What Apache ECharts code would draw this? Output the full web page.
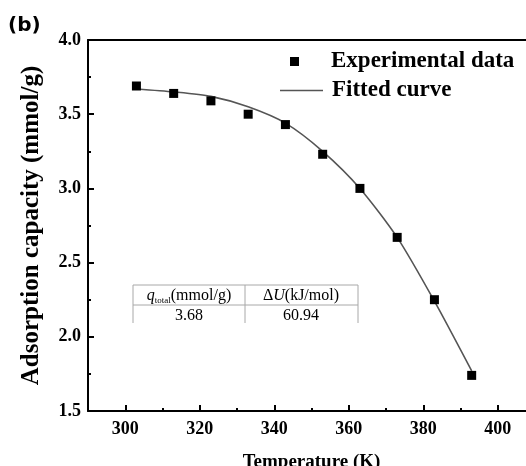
<!DOCTYPE html>
<html><head><meta charset="utf-8">
<script src="https://cdn.jsdelivr.net/npm/echarts@6/dist/echarts.min.js"></script>
<style>html,body{margin:0;padding:0;background:#fff}#c{width:526px;height:466px}</style>
</head><body><div id="c"></div>
<script>
const temperatures = [303, 313, 323, 333, 343, 353, 363, 373, 383, 393];
const experimental = [3.69, 3.64, 3.59, 3.50, 3.43, 3.23, 3.00, 2.67, 2.25, 1.74];
const fitted = [3.67, 3.65, 3.62, 3.55, 3.44, 3.25, 3.00, 2.67, 2.24, 1.77];
const xTickLabels = [300, 320, 340, 360, 380, 400];
const yTickLabels = ['1.5', '2.0', '2.5', '3.0', '3.5', '4.0'];
const tableValues = ['3.68', '60.94'];
const panelLabel = '(b)';

const serif = "'Liberation Serif','Times New Roman',serif";
const chart = echarts.init(document.getElementById('c'), null, {renderer: 'canvas'});

const expData = temperatures.map((t, i) => [t, experimental[i]]);
const fitData = temperatures.map((t, i) => [t, fitted[i]]);

const tableLine = '#a8a8a8';
chart.setOption({
  animation: false,
  backgroundColor: '#fff',
  grid: {left: 88, width: 447, top: 40, bottom: 55, outerBoundsMode: 'none', containLabel: false},
  legend: [
    {
      data: [{name: 'Experimental data', icon: 'rect'}],
      left: 290, top: 50, padding: 0, itemWidth: 9, itemHeight: 9,
      itemStyle: {color: '#000', opacity: 1},
      textStyle: {fontFamily: serif, fontWeight: 'bold', fontSize: 23, color: '#000', padding: [0, 0, 0, 27]},
      selectedMode: false
    },
    {
      data: [{name: 'Fitted curve', icon: 'rect'}],
      left: 280, top: 79, padding: 0, itemWidth: 43, itemHeight: 1.6,
      textStyle: {fontFamily: serif, fontWeight: 'bold', fontSize: 23, color: '#000', padding: [0, 0, 0, 4]},
      selectedMode: false
    }
  ],
  xAxis: [
    {
      type: 'value', min: 290, max: 410,
      name: 'Temperature (K)', nameLocation: 'middle', nameGap: 42,
      nameTextStyle: {fontFamily: serif, fontWeight: 'bold', fontSize: 19, color: '#000'},
      axisLine: {lineStyle: {color: '#000', width: 2}},
      axisTick: {inside: true, length: 6, lineStyle: {color: '#000', width: 2}, customValues: xTickLabels},
      axisLabel: {margin: 9, fontFamily: serif, fontWeight: 'bold', fontSize: 18, color: '#000', customValues: xTickLabels},
      splitLine: {show: false}
    },
    {
      type: 'value', position: 'bottom', min: 290, max: 410, interval: 10,
      axisLine: {show: false},
      axisTick: {inside: true, length: 3, lineStyle: {color: '#000', width: 2}},
      axisLabel: {show: false}, splitLine: {show: false}
    },
    {
      type: 'value', position: 'top', min: 290, max: 410,
      axisLine: {show: true, lineStyle: {color: '#000', width: 2}},
      axisTick: {show: false}, axisLabel: {show: false}, splitLine: {show: false}
    }
  ],
  yAxis: [
    {
      type: 'value', min: 1.5, max: 4.0, interval: 0.5,
      name: 'Adsorption capacity (mmol/g)', nameLocation: 'middle', nameGap: 44,
      nameTextStyle: {fontFamily: serif, fontWeight: 'bold', fontSize: 25, color: '#000'},
      axisLine: {show: true, lineStyle: {color: '#000', width: 2}},
      axisTick: {inside: true, length: 6, lineStyle: {color: '#000', width: 2}},
      minorTick: {show: true, splitNumber: 2, length: 3, lineStyle: {color: '#000', width: 2}},
      axisLabel: {margin: 7, fontFamily: serif, fontWeight: 'bold', fontSize: 18, color: '#000',
        formatter: v => yTickLabels.find(s => Math.abs(parseFloat(s) - v) < 1e-6) || ''},
      splitLine: {show: false}
    }
  ],
  series: [
    {
      name: 'Fitted curve', type: 'line', data: fitData, smooth: 0.25,
      symbol: 'none', z: 2,
      lineStyle: {color: '#555', width: 1.6}, itemStyle: {color: '#555'}
    },
    {
      name: 'Experimental data', type: 'scatter', data: expData, symbol: 'rect', symbolSize: 9, z: 3,
      itemStyle: {color: '#000', opacity: 1}
    }
  ],
  graphic: [
    {type: 'text', left: 8, top: 16, style: {text: panelLabel, fontFamily: "'DejaVu Sans',sans-serif", fontWeight: 'bold', fontSize: 20, fill: '#000'}},
    {type: 'line', shape: {x1: 133, y1: 285, x2: 358, y2: 285}, style: {stroke: tableLine, lineWidth: 1}},
    {type: 'line', shape: {x1: 133, y1: 305, x2: 358, y2: 305}, style: {stroke: tableLine, lineWidth: 1}},
    {type: 'line', shape: {x1: 133, y1: 285, x2: 133, y2: 323}, style: {stroke: tableLine, lineWidth: 1}},
    {type: 'line', shape: {x1: 245, y1: 285, x2: 245, y2: 323}, style: {stroke: tableLine, lineWidth: 1}},
    {type: 'line', shape: {x1: 358, y1: 285, x2: 358, y2: 323}, style: {stroke: tableLine, lineWidth: 1}},
    {type: 'text', x: 189, y: 296, style: {
      text: '{q|q}{s|total}{n|(mmol/g)}', align: 'center', verticalAlign: 'middle',
      rich: {
        q: {fontFamily: serif, fontStyle: 'italic', fontSize: 16, fill: '#000'},
        s: {fontFamily: serif, fontSize: 9, fill: '#000', verticalAlign: 'bottom', padding: [9, 0, 0, 0]},
        n: {fontFamily: serif, fontSize: 16, fill: '#000'}
      }}},
    {type: 'text', x: 301, y: 296, style: {
      text: '{n|Δ}{u|U}{n|(kJ/mol)}', align: 'center', verticalAlign: 'middle',
      rich: {
        u: {fontFamily: serif, fontStyle: 'italic', fontSize: 16, fill: '#000'},
        n: {fontFamily: serif, fontSize: 16, fill: '#000'}
      }}},
    {type: 'text', x: 189, y: 316, style: {text: tableValues[0], align: 'center', verticalAlign: 'middle', fontFamily: serif, fontSize: 16, fill: '#000'}},
    {type: 'text', x: 301, y: 316, style: {text: tableValues[1], align: 'center', verticalAlign: 'middle', fontFamily: serif, fontSize: 16, fill: '#000'}}
  ]
});
</script>
</body></html>
